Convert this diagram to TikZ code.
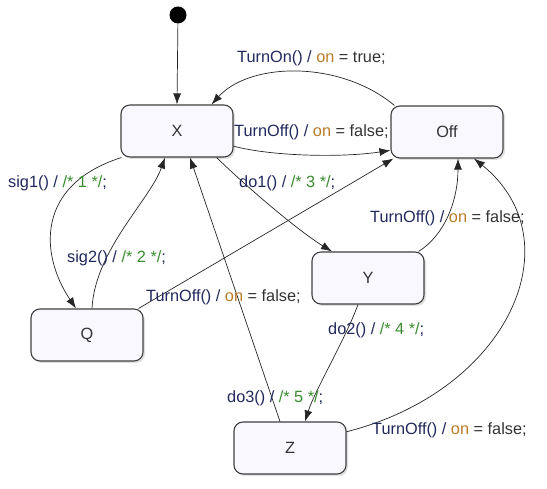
\documentclass[tikz,border=0pt]{standalone}
\usepackage{fontspec}
\setmainfont{Liberation Sans}
\usepackage{xcolor}
\usepackage{tikz}
\usetikzlibrary{arrows.meta}
\usetikzlibrary{shadows}
\definecolor{evcol}{RGB}{32,40,92}
\definecolor{varcol}{RGB}{184,124,40}
\definecolor{cmtcol}{RGB}{58,140,48}
\definecolor{boxfill}{RGB}{248,248,254}
\tikzstyle{state} = [rectangle, draw=black!75, line width=1.1pt, rounded corners=9pt, fill=boxfill, minimum width=112pt, minimum height=52pt, text=black!80, drop shadow={shadow xshift=2pt, shadow yshift=-2pt, fill=black!25}]
\tikzstyle{init} = [circle, fill=black, minimum size=17pt, inner sep=0pt]
\tikzstyle{lbl} = [anchor=west, inner sep=0pt, text=black!80]
\tikzstyle{tr} = [draw=black!85, line width=0.7pt, -{Latex[length=11pt,width=8pt]}]
\newcommand{\offact}{\textcolor{evcol}{TurnOff() /}\ \textcolor{varcol}{on} = false;}
\newcommand{\cmtact}[2]{\textcolor{evcol}{#1 /}\ \textcolor{cmtcol}{/* #2 */}\textcolor{evcol}{;}}

\begin{document}
\begin{tikzpicture}
				[x=1pt, y=-1pt,
				font=\fontsize{16.3}{19}\selectfont
				]
				\useasboundingbox (0,0) rectangle (547,489);
				\draw (178,15) node[init](start){};
				\draw (177,131) node[state](X){X};
				\draw (447,132) node[state](Off){Off};
				\draw (87,335) node[state](Q){Q};
				\draw (368,278) node[state](Y){Y};
				\draw (290,448) node[state](Z){Z};
				% transitions
				\draw[tr] (start) -- (X.north);
				\draw[tr] ([xshift=4pt]Off.north west) .. controls (340,60) and (250,62) .. ([xshift=-22pt]X.north east);
				\draw[tr] (X.-15) .. controls (270,156) and (340,158) .. (Off.-162);
				\draw[tr] ([xshift=1pt]X.south west) .. controls (35,185) and (40,255) .. ([xshift=-11pt]Q.north);
				\draw[tr] ([xshift=5pt]Q.north) .. controls (95,250) and (150,200) .. ([xshift=-12pt]X.south);
				\draw[tr] ([xshift=-5pt]Q.north east) -- ([xshift=3pt]Off.south west);
				\draw[tr] ([xshift=-17pt]X.south east) .. controls (250,190) and (300,232) .. ([xshift=-36pt]Y.north);
				\draw[tr] ([xshift=-6pt]Y.north east) .. controls (445,235) and (458,200) .. ([xshift=11pt]Off.south);
				\draw[tr] ([xshift=-10pt]Y.south) .. controls (345,340) and (315,390) .. ([xshift=15pt]Z.north);
				\draw[tr] ([xshift=-10pt]Z.north) -- ([xshift=13pt]X.south);
				\draw[tr] (Z.16) .. controls (510,390) and (575,240) .. ([xshift=27pt]Off.south);
				% labels
				\draw (237,58) node[lbl](lon){\textcolor{evcol}{TurnOn() /}\ \textcolor{varcol}{on} = true;};
				\draw (234,132) node[lbl](loffx){\offact};
				\draw (8,183) node[lbl](lsig1){\cmtact{sig1()}{1}};
				\draw (67,258) node[lbl](lsig2){\cmtact{sig2()}{2}};
				\draw (239,183) node[lbl](ldo1){\cmtact{do1()}{3}};
				\draw (146,297) node[lbl](loffq){\offact};
				\draw (370,218) node[lbl](loffy){\offact};
				\draw (328,330) node[lbl](ldo2){\cmtact{do2()}{4}};
				\draw (227,398) node[lbl](ldo3){\cmtact{do3()}{5}};
				\draw (372,430) node[lbl](loffz){\offact};
			\end{tikzpicture}
\end{document}
